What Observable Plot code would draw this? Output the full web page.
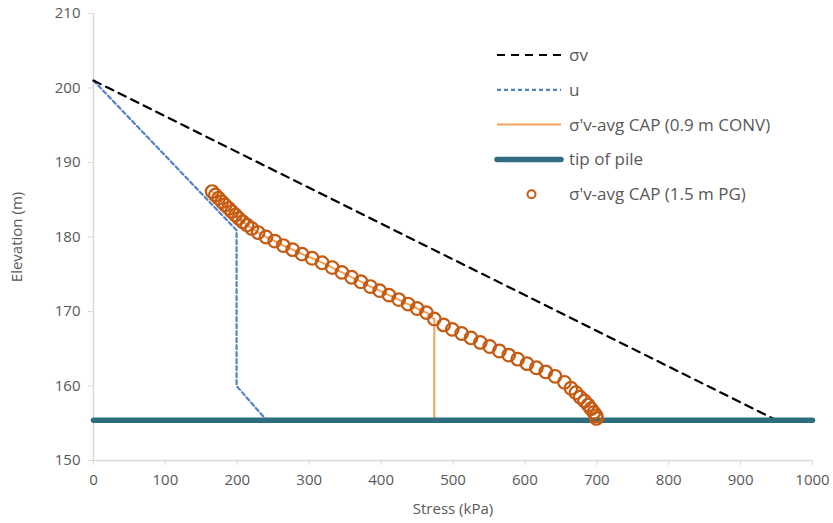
<!DOCTYPE html>
<html><head><meta charset="utf-8">
<script src="https://cdn.jsdelivr.net/npm/d3@7"></script>
<script src="https://cdn.jsdelivr.net/npm/@observablehq/plot@0.6"></script>
<style>
body{margin:0;background:#fff}
#wrap{position:relative;width:833px;height:523px;font-family:"Open Sans",sans-serif}
#legend{position:absolute;left:490px;top:38px}
</style></head><body><div id="wrap"></div>
<script>
// σv
const sigmaVStress = [0, 950];
const sigmaVElev   = [201, 155.4];
// u
const uStress = [0, 199, 199, 240];
const uElev   = [201, 180.9, 160.0, 155.5];
// σ'v-avg CAP (1.5 m PG)
const pgStress = [165,169.5,174,178.5,183,188,192.5,197.5,202,207.5,213.5,220,229,
  240,252,264,277,290,304,318,332,345.5,359,372,385,398,411,424.5,437.5,450,463,474,
  487,499,512,525,538,551,564.5,577.5,590,603,616,629,642,
  655,664,671,677,683,688,692,696,699,699.5];
const pgElev = [186.1,185.65,185.2,184.75,184.3,183.85,183.4,182.95,182.5,182.05,181.6,181.15,180.6,
  180.0,179.45,178.85,178.3,177.7,177.15,176.55,175.9,175.25,174.6,174.0,173.35,172.8,172.2,171.6,171.0,170.4,169.85,169.0,
  168.2,167.6,167.05,166.45,165.85,165.3,164.7,164.15,163.6,163.0,162.45,161.9,161.3,
  160.5,159.7,159.1,158.5,158.0,157.45,156.95,156.45,156.0,155.65];
// σ'v-avg CAP (0.9 m CONV): follows the same profile, then drops at CAP stress
const convCapStress = 474;
const tipElev = 155.4;
const xTicks = [0,100,200,300,400,500,600,700,800,900,1000];
const yTicks = [150,160,170,180,190,200,210];
const legendLabels = ["σv","u","σ'v-avg CAP (0.9 m CONV)","tip of pile","σ'v-avg CAP (1.5 m PG)"];

const zip = (xs, ys) => xs.map((x, i) => ({x, y: ys[i]}));
const sigmaV = zip(sigmaVStress, sigmaVElev);
const u = zip(uStress, uElev);
const pg = zip(pgStress, pgElev);
const conv = pg.filter(d => d.x <= convCapStress).concat([{x: convCapStress, y: tipElev}]);
const tip = [{x: 0, y: tipElev}, {x: 1000, y: tipElev}];

const gray = "#d9d9d9", txt = "#595959";
const font = "'Open Sans', sans-serif";
const plot = Plot.plot({
  width: 833, height: 523,
  marginLeft: 93, marginRight: 21, marginTop: 13, marginBottom: 63,
  style: {fontFamily: font, fontSize: "15px", color: txt, background: "#fff"},
  x: {domain: [0, 1000]},
  y: {domain: [150, 210]},
  marks: [
    Plot.ruleX([0], {stroke: gray, strokeWidth: 1.5}),
    Plot.ruleY([150], {stroke: gray, strokeWidth: 1.5}),
    Plot.axisX({ticks: xTicks, tickFormat: d3.format("d"), tickSize: 5, stroke: gray, tickPadding: 9, fill: txt, fontSize: 15,
      label: "Stress (kPa)", labelAnchor: "center", labelArrow: "none", labelOffset: 53}),
    Plot.axisY({ticks: yTicks, tickFormat: d3.format("d"), tickSize: 5, stroke: gray, tickPadding: 8, fill: txt, fontSize: 15,
      label: "Elevation (m)", labelAnchor: "center", labelArrow: "none", labelOffset: 82}),
    Plot.line(u, {x: "x", y: "y", stroke: "#5083c8", strokeWidth: 2.2, strokeDasharray: "4,3"}),
    Plot.line(sigmaV, {x: "x", y: "y", stroke: "#000", strokeWidth: 2.2, strokeDasharray: "8,6"}),
    Plot.line(conv, {x: "x", y: "y", stroke: "#f7a05a", strokeWidth: 2}),
    Plot.line(tip, {x: "x", y: "y", stroke: "#2e6d7e", strokeWidth: 5.5, strokeLinecap: "round"}),
    Plot.dot(pg, {x: "x", y: "y", r: 6.3, stroke: "#c55a11", strokeWidth: 2.2, fill: "none"})
  ]
});
document.getElementById("wrap").appendChild(plot);

// Legend overlay
const ns = "http://www.w3.org/2000/svg";
const lg = document.createElementNS(ns, "svg");
lg.setAttribute("id", "legend");
lg.setAttribute("width", 340); lg.setAttribute("height", 180);
const styles = [
  {type: "line", stroke: "#000", w: 2.2, dash: "8,6"},
  {type: "line", stroke: "#5083c8", w: 2.2, dash: "4,3"},
  {type: "line", stroke: "#f7a05a", w: 2, dash: null},
  {type: "line", stroke: "#2e6d7e", w: 5.5, dash: null, cap: "round"},
  {type: "dot", stroke: "#c55a11"}
];
legendLabels.forEach((lab, i) => {
  const cy = 17 + i * 34.8;
  const s = styles[i];
  if (s.type === "line") {
    const l = document.createElementNS(ns, "line");
    l.setAttribute("x1", 7); l.setAttribute("x2", 71);
    l.setAttribute("y1", cy); l.setAttribute("y2", cy);
    l.setAttribute("stroke", s.stroke); l.setAttribute("stroke-width", s.w);
    if (s.dash) l.setAttribute("stroke-dasharray", s.dash);
    if (s.cap) l.setAttribute("stroke-linecap", s.cap);
    lg.appendChild(l);
  } else {
    const c = document.createElementNS(ns, "circle");
    c.setAttribute("cx", 41.5); c.setAttribute("cy", cy); c.setAttribute("r", 4);
    c.setAttribute("fill", "none"); c.setAttribute("stroke", s.stroke); c.setAttribute("stroke-width", 2);
    lg.appendChild(c);
  }
  const t = document.createElementNS(ns, "text");
  t.setAttribute("x", 79); t.setAttribute("y", cy); t.setAttribute("dy", "0.35em");
  t.setAttribute("fill", txt); t.setAttribute("font-size", 17);
  t.setAttribute("font-family", font);
  t.textContent = lab;
  lg.appendChild(t);
});
document.getElementById("wrap").appendChild(lg);
</script></body></html>
